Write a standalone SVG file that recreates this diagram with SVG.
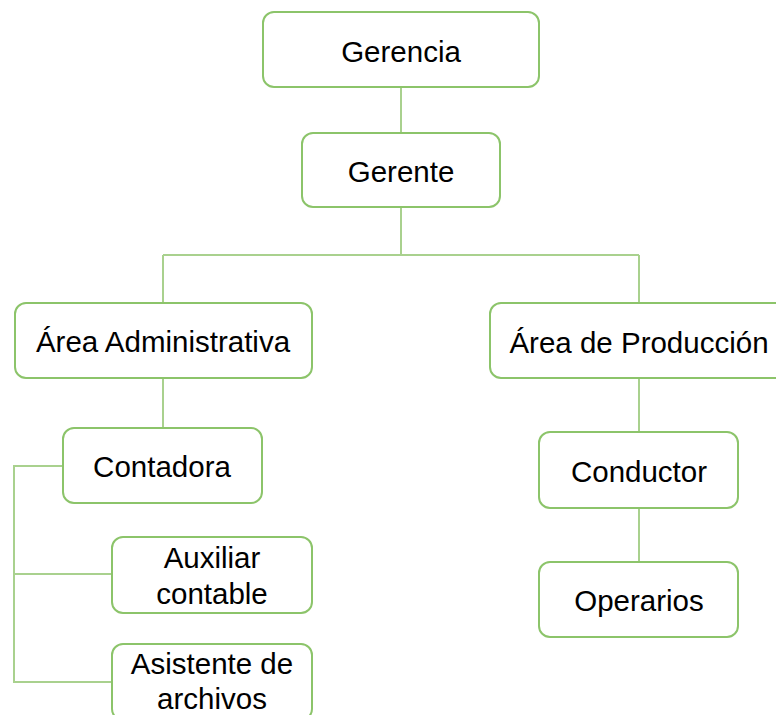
<svg xmlns="http://www.w3.org/2000/svg" width="776" height="715" viewBox="0 0 776 715">
<style>
.box{fill:#fff;stroke:#8cc46a;stroke-width:2}
.t{font-family:"Liberation Sans",Arial,sans-serif;font-size:29.5px;fill:#000;text-anchor:middle}
.c{fill:none;stroke:#a9d18e;stroke-width:2}
</style>
<rect width="776" height="715" fill="#fff"/>
<g id="connectors">
<path class="c" d="M401 87V133"/>
<path class="c" d="M401 207V255M163 255H639M163 255V303M639 255V303"/>
<path class="c" d="M163 378V428"/>
<path class="c" d="M63 466H14V682H112M14 574H112"/>
<path class="c" d="M639 378V432M639 508V562"/>
</g>
<g id="gerencia"><rect class="box" x="263" y="12" width="276" height="75" rx="11"/><text class="t" x="401" y="62">Gerencia</text></g>
<g id="gerente"><rect class="box" x="302" y="133" width="198" height="74" rx="11"/><text class="t" x="401" y="182">Gerente</text></g>
<g id="area-admin"><rect class="box" x="15" y="303" width="297" height="75" rx="11"/><text class="t" x="163" y="352">Área Administrativa</text></g>
<g id="area-prod"><rect class="box" x="490" y="303" width="298" height="75" rx="11"/><text class="t" x="639" y="353">Área de Producción</text></g>
<g id="contadora"><rect class="box" x="63" y="428" width="199" height="75" rx="11"/><text class="t" x="162" y="477">Contadora</text></g>
<g id="auxiliar"><rect class="box" x="112" y="537" width="200" height="76" rx="11"/><text class="t" x="212" y="568">Auxiliar</text><text class="t" x="212" y="604">contable</text></g>
<g id="asistente"><rect class="box" x="112" y="644" width="200" height="76" rx="11"/><text class="t" x="212" y="674">Asistente de</text><text class="t" x="212" y="709">archivos</text></g>
<g id="conductor"><rect class="box" x="539" y="432" width="199" height="76" rx="11"/><text class="t" x="639" y="482">Conductor</text></g>
<g id="operarios"><rect class="box" x="539" y="562" width="199" height="75" rx="11"/><text class="t" x="639" y="611">Operarios</text></g>
</svg>
